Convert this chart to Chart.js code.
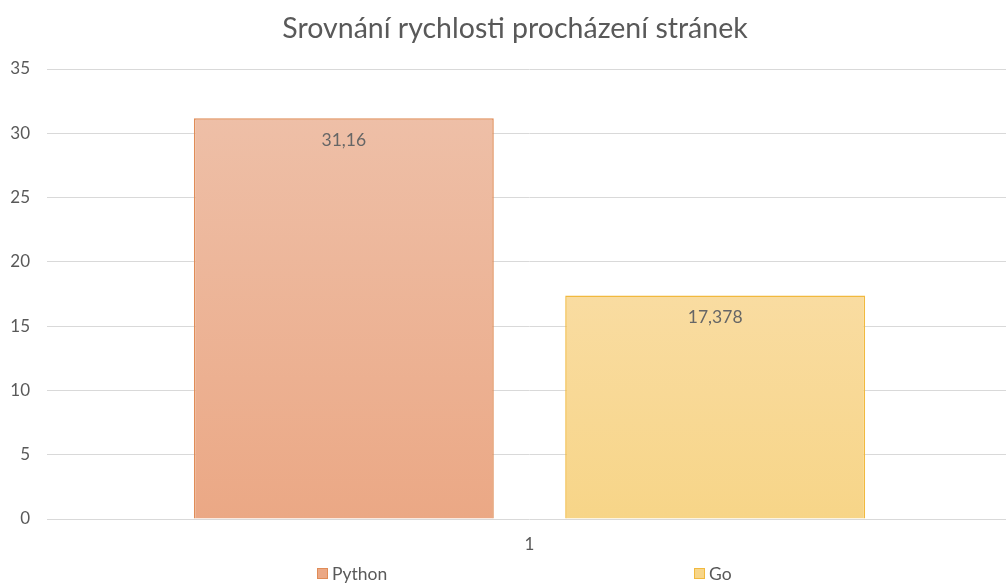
<!DOCTYPE html>
<html lang="cs">
<head>
<meta charset="utf-8">
<title>Srovnání rychlosti procházení stránek</title>
<script src="https://cdn.jsdelivr.net/npm/chart.js@4.4.1/dist/chart.umd.min.js"></script>
<style>
  html, body { margin: 0; padding: 0; background: #fff; }
  #wrap { position: relative; width: 1006px; height: 583px; overflow: hidden; }
  #legend { position: absolute; left: 0; top: 563px; width: 1006px; height: 20px;
    font-family: Lato, "Open Sans", sans-serif; font-size: 17.5px; color: #595959; }
  .item { position: absolute; top: 0; display: flex; align-items: center; height: 20px; }
  .box { width: 11px; height: 11px; margin-right: 4px; box-sizing: border-box; border: 1px solid; }
</style>
</head>
<body>
<div id="wrap">
  <canvas id="chart" width="1012" height="583"></canvas>
  <div id="legend"></div>
</div>
<script>
const categories = ["1"];
const seriesNames = ["Python", "Go"];
const pythonValues = [31.16];
const goValues = [17.378];
const yTicks = [0, 5, 10, 15, 20, 25, 30, 35];
const chartTitle = "Srovnání rychlosti procházení stránek";

const fills = [
  { top: "#eebfa7", bottom: "#eba885", border: "#e08c57" },
  { top: "#f9dca1", bottom: "#f7d588", border: "#f1b93e" },
];
const legendX = [317, 694];
const FONT = "Lato, 'Open Sans', sans-serif";

function formatCz(v) {
  return String(v).replace(".", ",");
}

function barGradient(ctx, i) {
  const chart = ctx.chart;
  const area = chart.chartArea;
  if (!area || ctx.parsed === undefined) return fills[i].bottom;
  const top = chart.scales.y.getPixelForValue(ctx.parsed.y);
  const g = chart.ctx.createLinearGradient(0, top, 0, area.bottom);
  g.addColorStop(0, fills[i].top);
  g.addColorStop(1, fills[i].bottom);
  return g;
}

// title drawn by hand: Excel centres it a bit right of the canvas middle
const titlePlugin = {
  id: "sheetTitle",
  afterDraw(chart) {
    const c = chart.ctx;
    c.save();
    c.font = "28.5px " + FONT;
    c.fillStyle = "#595959";
    c.textAlign = "center";
    c.textBaseline = "middle";
    c.fillText(chartTitle, 515, 29);
    c.restore();
  },
};

// value labels just under the top edge of each bar
const valueLabels = {
  id: "valueLabels",
  afterDatasetsDraw(chart) {
    const c = chart.ctx;
    c.save();
    c.font = "17.5px " + FONT;
    c.fillStyle = "#666666";
    c.textAlign = "center";
    c.textBaseline = "middle";
    chart.data.datasets.forEach((ds, i) => {
      chart.getDatasetMeta(i).data.forEach((bar, j) => {
        c.fillText(formatCz(ds.data[j]), bar.x, bar.y + 22);
      });
    });
    c.restore();
  },
};

const datasets = [pythonValues, goValues].map((vals, i) => ({
  label: seriesNames[i],
  data: vals,
  backgroundColor: (ctx) => barGradient(ctx, i),
  borderColor: fills[i].border,
  borderWidth: 1.5,
  categoryPercentage: 0.7696,
  barPercentage: 0.8076,
}));

new Chart(document.getElementById("chart"), {
  type: "bar",
  data: { labels: categories, datasets },
  options: {
    responsive: false,
    animation: false,
    layout: { padding: { left: 0, right: 0, top: 69, bottom: 28 } },
    plugins: {
      legend: { display: false },
      tooltip: { enabled: false },
      title: { display: false },
    },
    scales: {
      x: {
        grid: { display: false },
        border: { display: false },
        ticks: { color: "#595959", font: { family: FONT, size: 17 }, padding: 7 },
        afterFit(scale) { scale.height = 36; },
      },
      y: {
        min: 0,
        max: 35,
        afterBuildTicks(scale) { scale.ticks = yTicks.map((v) => ({ value: v })); },
        grid: { color: "#d9d9d9", lineWidth: 1, drawTicks: false },
        border: { display: false },
        ticks: { color: "#595959", font: { family: FONT, size: 17 }, padding: 17 },
        afterFit(scale) { scale.width = 47; },
      },
    },
  },
  plugins: [valueLabels, titlePlugin],
});

const legend = document.getElementById("legend");
seriesNames.forEach((name, i) => {
  const item = document.createElement("div");
  item.className = "item";
  item.style.left = legendX[i] + "px";
  const box = document.createElement("span");
  box.className = "box";
  box.style.background = fills[i].bottom;
  box.style.borderColor = fills[i].border;
  const text = document.createElement("span");
  text.textContent = name;
  item.appendChild(box);
  item.appendChild(text);
  legend.appendChild(item);
});
</script>
</body>
</html>
